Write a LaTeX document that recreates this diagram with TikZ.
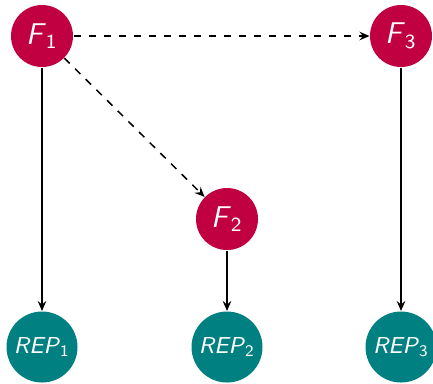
\documentclass[tikz,border=0pt]{standalone}
\usetikzlibrary{arrows.meta}
\definecolor{fred}{RGB}{192,0,64}
\definecolor{repteal}{RGB}{0,128,128}
\begin{document}
\begin{tikzpicture}[x=0.4pt,y=-0.4pt,
  fnode/.style={circle,fill=fred,text=white,minimum size=24.8pt,inner sep=0pt,font=\sffamily\large},
  repnode/.style={circle,fill=repteal,text=white,minimum size=28.4pt,inner sep=0pt,font=\sffamily\fontsize{9.2}{11}\selectfont},
  link/.style={line width=0.6pt,-{Stealth[length=4pt,width=3.4pt,inset=1.4pt]}},
  dlink/.style={link,dashed}]
\useasboundingbox (0,0) rectangle (433,383);
\node[fnode] (f1) at (42,36) {\textit{F}\textsubscript{1}};
\node[fnode] (f3) at (401,36) {\textit{F}\textsubscript{3}};
\node[fnode] (f2) at (227,219) {\textit{F}\textsubscript{2}};
\node[repnode] (r1) at (42,347) {\textit{REP}\textsubscript{1}};
\node[repnode] (r2) at (227,347) {\textit{REP}\textsubscript{2}};
\node[repnode] (r3) at (401,347) {\textit{REP}\textsubscript{3}};
\draw[dlink] (f1) -- (f3);
\draw[dlink] (f1) -- (f2);
\draw[link] (f1) -- (r1);
\draw[link] (f2) -- (r2);
\draw[link] (f3) -- (r3);
\end{tikzpicture}
\end{document}
